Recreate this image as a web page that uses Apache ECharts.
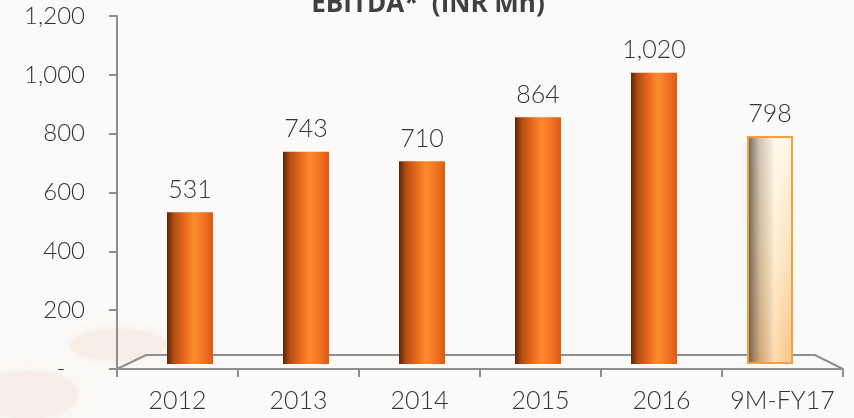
<!DOCTYPE html>
<html>
<head>
<meta charset="utf-8">
<script src="https://cdn.jsdelivr.net/npm/echarts@6/dist/echarts.min.js"></script>
<style>
  html, body { margin: 0; padding: 0; background: #fbfaf8; }
  #chart { width: 854px; height: 418px; }
</style>
</head>
<body>
<div id="chart"></div>
<script>
  // data
  var categories = ['2012', '2013', '2014', '2015', '2016', '9M-FY17'];
  var ebitda = [531, 743, 710, 864, 1020, 798];
  var yTicks = [0, 200, 400, 600, 800, 1000, 1200];
  var titleText = 'EBITDA*  (INR Mn)';

  var FONT = 'Lato, "DejaVu Sans", sans-serif';
  var AXIS_GREY = '#8e8e8e';
  var lastIdx = ebitda.length - 1;

  var orangeFill = new echarts.graphic.LinearGradient(0, 0, 1, 0, [
    { offset: 0, color: '#5c2406' },
    { offset: 0.15, color: '#b44e10' },
    { offset: 0.38, color: '#e8691c' },
    { offset: 0.58, color: '#ff8a30' },
    { offset: 0.82, color: '#f07020' },
    { offset: 1, color: '#d95b12' }
  ]);
  // last bar: warm vertical base + horizontal shading overlay
  var creamBase = new echarts.graphic.LinearGradient(0, 0, 0, 1, [
    { offset: 0, color: '#fff8e6' },
    { offset: 0.5, color: '#fde6c2' },
    { offset: 1, color: '#fcc88c' }
  ]);
  var creamShade = new echarts.graphic.LinearGradient(0, 0, 1, 0, [
    { offset: 0, color: 'rgba(70,60,50,0.85)' },
    { offset: 0.3, color: 'rgba(120,100,80,0.3)' },
    { offset: 0.6, color: 'rgba(255,255,245,0.35)' },
    { offset: 0.85, color: 'rgba(255,255,255,0)' },
    { offset: 1, color: 'rgba(220,160,90,0.15)' }
  ]);

  var barData = ebitda.map(function (v, i) {
    return {
      value: v,
      itemStyle: i === lastIdx ? { color: creamBase } : { color: orangeFill }
    };
  });
  var shadeData = ebitda.map(function (v, i) {
    return i === lastIdx ? v : '-';
  });

  var chart = echarts.init(document.getElementById('chart'), null, { renderer: 'canvas' });

  var option = {
    backgroundColor: '#fbfaf8',
    animation: false,
    graphic: [
      // faint background blobs
      { type: 'ellipse', shape: { cx: 118, cy: 345, rx: 48, ry: 16 },
        style: { fill: '#f6eee7', shadowBlur: 14, shadowColor: '#f6eee7' }, z: -10, silent: true },
      { type: 'ellipse', shape: { cx: 28, cy: 395, rx: 50, ry: 24 },
        style: { fill: '#f6eee7', shadowBlur: 16, shadowColor: '#f6eee7' }, z: -10, silent: true },
      // perspective floor
      { type: 'polyline', shape: { points: [[117, 369], [146, 355], [815, 355], [843, 369]] },
        style: { stroke: AXIS_GREY, lineWidth: 2, fill: null }, z: 1, silent: true },
      { type: 'text', x: 428, y: 18,
        style: { text: titleText, font: 'bold 26px "Open Sans", sans-serif', fill: '#404040',
                 textAlign: 'center', textVerticalAlign: 'bottom' }, z: 10 }
    ],
    grid: [
      { left: 117, right: 11, top: 16, bottom: 49 },
      { left: 132, right: 26, top: 21.3, bottom: 54 }
    ],
    xAxis: [
      {
        gridIndex: 0,
        type: 'category',
        data: categories,
        boundaryGap: true,
        axisLine: { lineStyle: { color: AXIS_GREY, width: 2 } },
        axisTick: { show: true, interval: 0, length: 8, lineStyle: { color: AXIS_GREY, width: 2 } },
        axisLabel: { color: '#333', fontFamily: FONT, fontWeight: 300, fontSize: 25, margin: 19, interval: 0, hideOverlap: false }
      },
      {
        gridIndex: 1,
        type: 'category',
        data: categories,
        show: false
      }
    ],
    yAxis: [
      {
        gridIndex: 0,
        type: 'value',
        min: yTicks[0],
        max: yTicks[yTicks.length - 1],
        interval: yTicks[1] - yTicks[0],
        splitLine: { show: false },
        axisLine: { show: true, lineStyle: { color: AXIS_GREY, width: 2 } },
        axisTick: { show: true, length: 8, lineStyle: { color: AXIS_GREY, width: 2 } },
        axisLabel: {
          color: '#333', fontFamily: FONT, fontWeight: 300, fontSize: 24, margin: 32,
          formatter: function (v) { return v === 0 ? '-   ' : v.toLocaleString('en-US'); }
        }
      },
      {
        gridIndex: 1,
        type: 'value',
        min: yTicks[0],
        max: yTicks[yTicks.length - 1],
        show: false
      }
    ],
    series: [
      {
        name: 'EBITDA',
        type: 'bar',
        xAxisIndex: 1,
        yAxisIndex: 1,
        barWidth: 46,
        z: 5,
        data: barData,
        label: {
          show: true,
          position: 'top',
          distance: 10,
          color: '#333',
          fontFamily: FONT,
          fontWeight: 300,
          fontSize: 25,
          formatter: function (p) { return p.value.toLocaleString('en-US'); }
        }
      },
      {
        name: 'shade',
        type: 'bar',
        xAxisIndex: 1,
        yAxisIndex: 1,
        barWidth: 46,
        barGap: '-100%',
        z: 6,
        data: shadeData,
        itemStyle: { color: creamShade, borderColor: '#f0a040', borderWidth: 2 },
        silent: true
      }
    ]
  };

  chart.setOption(option);
</script>
</body>
</html>
